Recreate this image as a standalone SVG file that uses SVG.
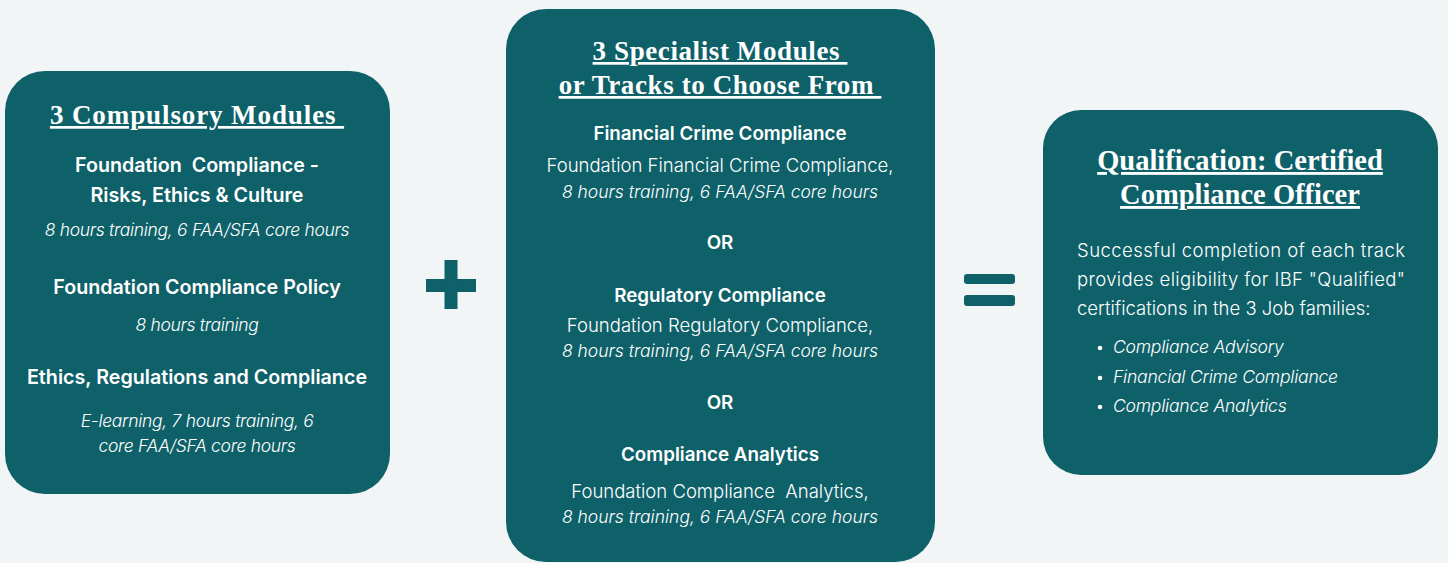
<svg xmlns="http://www.w3.org/2000/svg" width="1448" height="563" viewBox="0 0 1448 563">
<style>
.box{fill:#0f6169}
.sym{fill:#0f6169}
.t{font-family:"Liberation Serif",serif;font-weight:bold;fill:#fff;text-anchor:middle;text-decoration:underline}
.b{font-family:Inter,"Liberation Sans",sans-serif;font-weight:600;fill:#fff;text-anchor:middle;font-size:18.8px}
.b1{font-size:19.7px}
.r{font-family:Inter,"Liberation Sans",sans-serif;font-weight:300;fill:#fff;text-anchor:middle;font-size:18.5px}
.i{font-family:Inter,"Liberation Sans",sans-serif;font-weight:300;font-style:italic;fill:#fff;text-anchor:middle;font-size:17.5px;letter-spacing:-0.3px}
.i0{letter-spacing:0}
.ib{font-size:17.6px;letter-spacing:-0.25px}
.l{text-anchor:start}
</style>
<rect width="1448" height="563" fill="#f2f5f6"/>
<g id="compulsory">
<rect class="box" x="5" y="71" width="385" height="423" rx="40"/>
<text class="t" x="197" y="124" font-size="27" letter-spacing="0.9">3 Compulsory Modules&#160;</text>
<text class="b b1" x="197" y="172">Foundation&#160; Compliance -</text>
<text class="b b1" x="197" y="202">Risks, Ethics &amp; Culture</text>
<text class="i" x="197" y="236">8 hours training, 6 FAA/SFA core hours</text>
<text class="b b1" x="197" y="294">Foundation Compliance Policy</text>
<text class="i" x="197" y="331">8 hours training</text>
<text class="b b1" x="197" y="384">Ethics, Regulations and Compliance</text>
<text class="i" x="197" y="427">E-learning, 7 hours training, 6</text>
<text class="i" x="197" y="452">core FAA/SFA core hours</text>
</g>
<g id="plus">
<rect class="sym" x="426" y="279" width="50" height="13"/>
<rect class="sym" x="444.5" y="260" width="13" height="49"/>
</g>
<g id="specialist">
<rect class="box" x="506" y="9" width="429" height="553" rx="40"/>
<text class="t" x="720" y="60" font-size="27" letter-spacing="0.6">3 Specialist Modules&#160;</text>
<text class="t" x="720" y="94" font-size="27" letter-spacing="0.6">or Tracks to Choose From&#160;</text>
<text class="b" x="720" y="140">Financial Crime Compliance</text>
<text class="r" x="720" y="172">Foundation Financial Crime Compliance,</text>
<text class="i i0" x="720" y="198">8 hours training, 6 FAA/SFA core hours</text>
<text class="b" x="720" y="249">OR</text>
<text class="b" x="720" y="302">Regulatory Compliance</text>
<text class="r" x="720" y="332">Foundation Regulatory Compliance,</text>
<text class="i i0" x="720" y="357">8 hours training, 6 FAA/SFA core hours</text>
<text class="b" x="720" y="409">OR</text>
<text class="b" x="720" y="461">Compliance Analytics</text>
<text class="r" x="720" y="498">Foundation Compliance&#160; Analytics,</text>
<text class="i i0" x="720" y="523">8 hours training, 6 FAA/SFA core hours</text>
</g>
<g id="equals">
<rect class="sym" x="964" y="274" width="51" height="10" rx="3"/>
<rect class="sym" x="964" y="295" width="51" height="11" rx="3"/>
</g>
<g id="qualification">
<rect class="box" x="1043" y="110" width="395" height="365" rx="38"/>
<text class="t" x="1240" y="170" font-size="28.5">Qualification: Certified</text>
<text class="t" x="1240" y="204" font-size="28.5">Compliance Officer</text>
<text class="r l" x="1077" y="257" textLength="328" lengthAdjust="spacing">Successful completion of each track</text>
<text class="r l" x="1077" y="286" textLength="328" lengthAdjust="spacing">provides eligibility for IBF "Qualified"</text>
<text class="r l" x="1077" y="315">certifications in the 3 Job families:</text>
<circle cx="1100" cy="348" r="2.3" fill="#fff"/>
<circle cx="1100" cy="378" r="2.3" fill="#fff"/>
<circle cx="1100" cy="407" r="2.3" fill="#fff"/>
<text class="i ib l" x="1113" y="353">Compliance Advisory</text>
<text class="i ib l" x="1113" y="383">Financial Crime Compliance</text>
<text class="i ib l" x="1113" y="412">Compliance Analytics</text>
</g>
<g id="connectors"></g>
</svg>
